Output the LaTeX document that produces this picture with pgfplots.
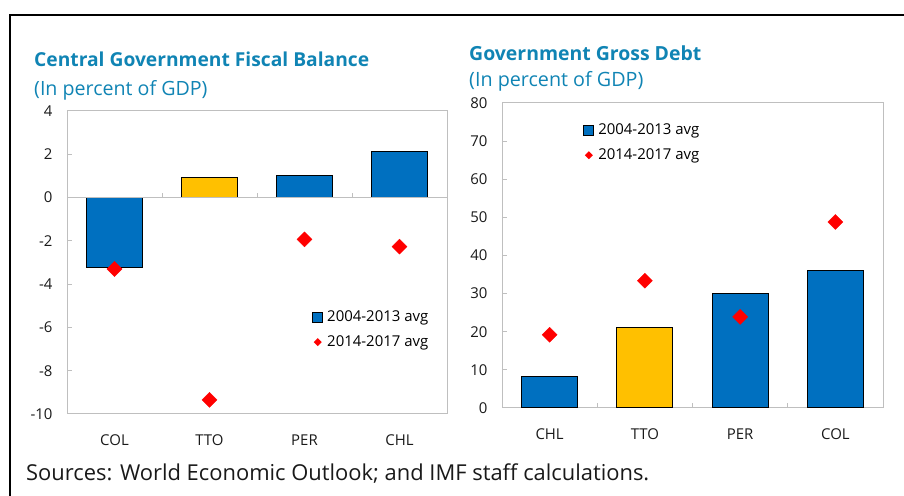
\documentclass[border=0pt]{standalone}
\usepackage{pgfplots}
\pgfplotsset{compat=1.18}
\usepackage{fontspec}
\setmainfont{Open Sans}
\definecolor{imfblue}{HTML}{0070C0}
\definecolor{imfyellow}{HTML}{FFC000}
\definecolor{imfred}{HTML}{FF0000}
\definecolor{axisgray}{HTML}{BFBFBF}
\definecolor{titleblue}{RGB}{16,132,180}

\pgfplotsset{
  imfaxis/.style={
    scale only axis,
    anchor=south west,
    axis line style={axisgray, line width=1bp},
    xmin=-0.5, xmax=3.5,
    xtick={0,1,2,3},
    x tick style={draw=none},
    y tick style={axisgray, line width=1bp},
    major tick length=5bp,
    tick align=inside,
    tick pos=left,
    ticklabel style={font=\fontsize{15}{18}\selectfont, text=black!90},
    xticklabel style={yshift=-17bp},
    yticklabel style={xshift=-11bp},
    /pgf/number format/assume math mode=true,
    legend cell align=left,
    legend style={draw=none, fill=none, font=\fontsize{15}{18}\selectfont,
      nodes={text height=11bp, text depth=3bp, inner sep=4bp},
      row sep=3bp},
  },
  barleg/.style={legend image code/.code={
      \draw[fill=imfblue, draw=black, line width=1bp] (0bp,-5bp) rectangle (10bp,5bp);}},
  diaminleg/.style={legend image code/.code={
      \path[draw=none, fill=none] (0bp,-5bp) rectangle (10bp,5bp);
      \path[fill=imfred, draw=none] (5bp,-4bp) -- (9bp,0bp) -- (5bp,4bp) -- (1bp,0bp) -- cycle;}},
}

\begin{document}
\begin{tikzpicture}
\useasboundingbox (0,0) rectangle (904bp,496bp);
% frame
\draw[black, line width=2bp] (10bp,0bp) -- (10bp,481bp) -- (904bp,481bp);

% left panel titles
\node[anchor=base west, inner sep=0, text=titleblue, font=\fontsize{19.3}{22}\selectfont\bfseries]
  at (34bp,429bp) {Central Government Fiscal Balance};
\node[anchor=base west, inner sep=0, text=titleblue, font=\fontsize{19.7}{22}\selectfont]
  at (34bp,400bp) {(In percent of GDP)};

\begin{axis}[imfaxis,
  at={(67bp,82bp)}, width=380bp, height=303bp,
  ymin=-10, ymax=4, ytick={-10,-8,...,4},
  xticklabels={COL,TTO,PER,CHL},
  legend style={at={(0.637,0.363)}, anchor=north west},
]
\addplot[ybar, bar width=56bp, fill=imfblue, draw=black, line width=1bp, barleg]
  coordinates {(0,-3.22) (2,1.02) (3,2.15)};
\addlegendentry{2004-2013 avg}
\addplot[ybar, bar width=56bp, fill=imfyellow, draw=black, line width=1bp, forget plot]
  coordinates {(1,0.95)};
\draw[axisgray, line width=1bp] (axis cs:-0.5,0) -- (axis cs:3.5,0);
\draw[axisgray, line width=1bp] (axis cs:0.5,0) -- ++(0bp,5bp);
\draw[axisgray, line width=1bp] (axis cs:1.5,0) -- ++(0bp,5bp);
\draw[axisgray, line width=1bp] (axis cs:2.5,0) -- ++(0bp,5bp);
\addplot[only marks, mark=square*, mark size=5.3bp, mark options={fill=imfred, draw=imfred, rotate=45}, diaminleg]
  coordinates {(0,-3.3) (1,-9.35) (2,-1.93) (3,-2.27)};
\addlegendentry{2014-2017 avg}
\end{axis}

% right panel titles
\node[anchor=base west, inner sep=0, text=titleblue, font=\fontsize{19.5}{22}\selectfont\bfseries]
  at (469bp,435bp) {Government Gross Debt};
\node[anchor=base west, inner sep=0, text=titleblue, font=\fontsize{19.8}{22}\selectfont]
  at (469bp,409bp) {(In percent of GDP)};

\begin{axis}[imfaxis,
  at={(502bp,88bp)}, width=381bp, height=305bp,
  ymin=0, ymax=80, ytick={0,10,...,80},
  xticklabels={CHL,TTO,PER,COL},
  legend style={at={(0.205,0.954)}, anchor=north west},
]
\addplot[ybar, bar width=56bp, fill=imfblue, draw=black, line width=1bp, barleg]
  coordinates {(0,8.2) (2,30.0) (3,36.1)};
\addlegendentry{2004-2013 avg}
\addplot[ybar, bar width=56bp, fill=imfyellow, draw=black, line width=1bp, forget plot]
  coordinates {(1,21.1)};
\draw[axisgray, line width=1bp] (axis cs:0.5,0) -- ++(0bp,5bp);
\draw[axisgray, line width=1bp] (axis cs:1.5,0) -- ++(0bp,5bp);
\draw[axisgray, line width=1bp] (axis cs:2.5,0) -- ++(0bp,5bp);
\addplot[only marks, mark=square*, mark size=5.3bp, mark options={fill=imfred, draw=imfred, rotate=45}, diaminleg]
  coordinates {(0,19.2) (1,33.4) (2,23.9) (3,48.8)};
\addlegendentry{2014-2017 avg}
\end{axis}

% source note
\node[anchor=base west, inner sep=0, font=\fontsize{22}{26}\selectfont, text=black!90]
  at (26bp,15.5bp) {Sources: World Economic Outlook; and IMF staff calculations.};
\end{tikzpicture}
\end{document}
